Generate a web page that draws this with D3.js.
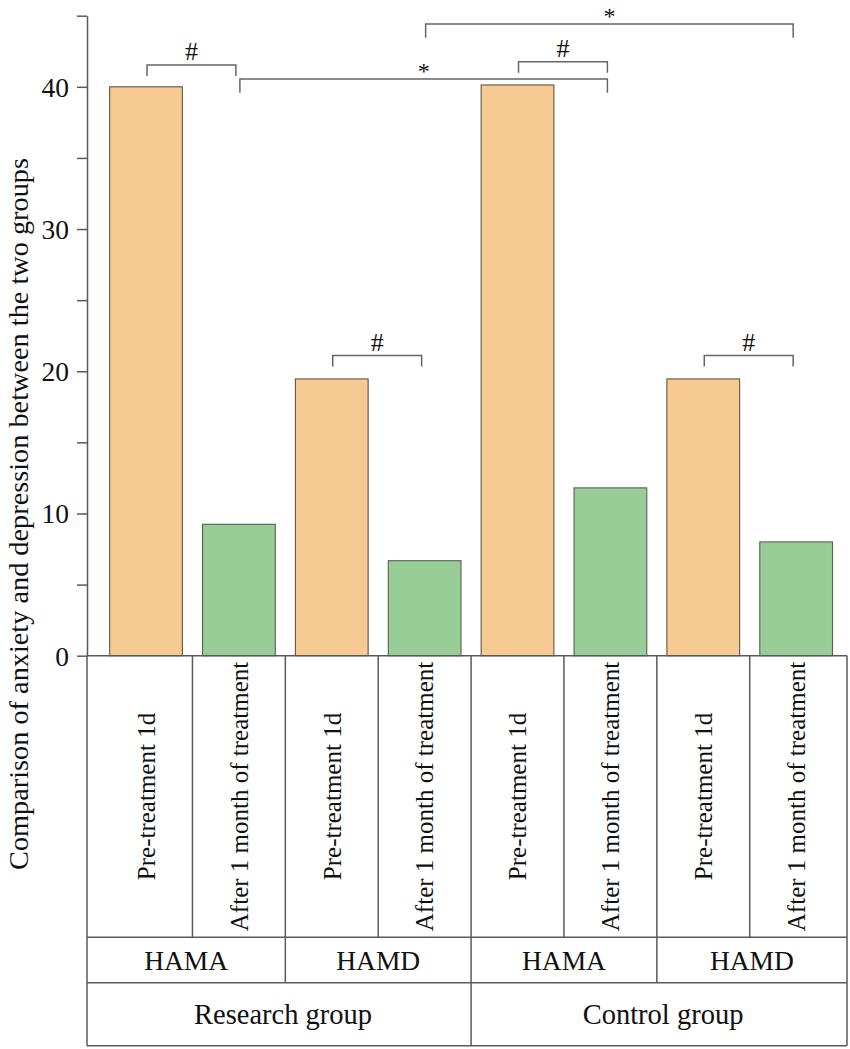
<!DOCTYPE html>
<html>
<head>
<meta charset="utf-8">
<script src="https://cdn.jsdelivr.net/npm/d3@7/dist/d3.min.js"></script>
<style>
  html, body { margin: 0; padding: 0; background: #fff; }
  svg text { font-family: "Liberation Serif", "Times New Roman", Times, serif; fill: #111; }
</style>
</head>
<body>
<svg id="chart" width="850" height="1049"></svg>
<script>
// ---- data ----
const groups = ["Research group", "Control group"];
const scalesNames = ["HAMA", "HAMD"];
const timepoints = ["Pre-treatment 1d", "After 1 month of treatment"];
const values = [40.0, 9.24, 19.46, 6.68, 40.13, 11.8, 19.46, 8.0];
const yTicks = [0, 5, 10, 15, 20, 25, 30, 35, 40, 45];
const yTickLabels = ["0", "", "10", "", "20", "", "30", "", "40", ""];
const yTitle = "Comparison of anxiety and depression between the two groups";
const brackets = [
  { from: 0, to: 1, level: 41.54, label: "#" },
  { from: 2, to: 3, level: 21.1, label: "#" },
  { from: 4, to: 5, level: 41.77, label: "#" },
  { from: 6, to: 7, level: 21.1, label: "#" },
  { from: 1, to: 5, level: 40.55, label: "*" },
  { from: 3, to: 7, level: 44.42, label: "*" }
];

// build rows
const bars = [];
groups.forEach((g, gi) => scalesNames.forEach((s, si) => timepoints.forEach((t, ti) => {
  bars.push({ id: bars.length, group: g, scale: s, time: t, ti: ti, value: values[bars.length] });
})));

const svg = d3.select("#chart");
const left = 87, right = 847, y0 = 655.7, yTop = 15.7;
const rowBottoms = [937.3, 982.7, 1045.7];
const colors = ["#F8CA93", "#98CD97"];
const strokes = ["#5e5444", "#55624f"];
const lineColor = "#5a5a5a";

const x = d3.scaleBand().domain(bars.map(d => d.id)).range([left, right])
  .paddingInner(0.217).paddingOuter(0.2).align(0.61);
const y = d3.scaleLinear().domain([0, 45]).range([y0, yTop]);

// bars
svg.append("g").selectAll("rect").data(bars).join("rect")
  .attr("x", d => x(d.id))
  .attr("y", d => y(d.value))
  .attr("width", x.bandwidth())
  .attr("height", d => y(0) - y(d.value))
  .attr("fill", d => colors[d.ti])
  .attr("stroke", d => strokes[d.ti])
  .attr("stroke-width", 1.1);

// y axis
const yAxis = d3.axisLeft(y).tickValues(yTicks)
  .tickFormat((d, i) => yTickLabels[i]).tickSize(10).tickSizeOuter(0).tickPadding(8);
const ag = svg.append("g").attr("transform", `translate(${left},0)`).call(yAxis);
ag.select(".domain").attr("stroke", lineColor).attr("stroke-width", 1.5);
ag.selectAll(".tick line").attr("stroke", lineColor).attr("stroke-width", 1.5);
ag.selectAll(".tick text").attr("font-size", 27.5).attr("font-family", "Liberation Serif, Times New Roman, serif").attr("fill", "#111").attr("dy", "0.34em");

// y title
svg.append("text")
  .attr("transform", `translate(28,${(158 + 870) / 2}) rotate(-90)`)
  .attr("text-anchor", "middle")
  .attr("font-size", 28.3)
  .text(yTitle);

// table
const step = x.step();
const gap = step - x.bandwidth();
const divider = i => x(bars[i].id) - gap / 2; // line before bar i
const tg = svg.append("g").attr("stroke", lineColor).attr("stroke-width", 1.5).attr("fill", "none");
[y0, ...rowBottoms].forEach(yy => tg.append("line").attr("x1", left).attr("x2", right).attr("y1", yy).attr("y2", yy));
tg.append("line").attr("x1", right).attr("x2", right).attr("y1", y0).attr("y2", rowBottoms[2]);
tg.append("line").attr("x1", left).attr("x2", left).attr("y1", y0).attr("y2", rowBottoms[2]);
bars.forEach((d, i) => {
  if (i === 0) return;
  let yEnd = rowBottoms[0];
  if (i % 2 === 0) yEnd = rowBottoms[1];
  if (i % 4 === 0) yEnd = rowBottoms[2];
  tg.append("line").attr("x1", divider(i)).attr("x2", divider(i)).attr("y1", y0).attr("y2", yEnd);
});

// row1 texts (rotated)
svg.append("g").selectAll("text").data(bars).join("text")
  .attr("transform", d => `translate(${x(d.id) + x.bandwidth() / 2},${(y0 + rowBottoms[0]) / 2}) rotate(-90)`)
  .attr("text-anchor", "middle")
  .attr("dy", "0.35em")
  .attr("font-size", 25)
  .text(d => d.time);

// row2 texts
const cellEdge = i => (i === 0 ? left : (i >= bars.length ? right : divider(i)));
const scaleCells = [];
for (let i = 0; i < bars.length; i += 2) scaleCells.push({ name: bars[i].scale, x0: cellEdge(i), x1: cellEdge(i + 2) });
svg.append("g").selectAll("text").data(scaleCells).join("text")
  .attr("x", d => (d.x0 + d.x1) / 2)
  .attr("y", (rowBottoms[0] + rowBottoms[1]) / 2)
  .attr("dy", "0.35em")
  .attr("text-anchor", "middle")
  .attr("font-size", 27.5)
  .text(d => d.name);

// row3 texts
const groupCells = [];
for (let i = 0; i < bars.length; i += 4) groupCells.push({ name: bars[i].group, x0: cellEdge(i), x1: cellEdge(i + 4) });
svg.append("g").selectAll("text").data(groupCells).join("text")
  .attr("x", d => (d.x0 + d.x1) / 2 + 4)
  .attr("y", (rowBottoms[1] + rowBottoms[2]) / 2)
  .attr("dy", "0.35em")
  .attr("text-anchor", "middle")
  .attr("font-size", 28.5)
  .text(d => d.name);

// significance brackets
const bg = svg.append("g");
brackets.forEach(b => {
  const xa = x(bars[b.from].id) + x.bandwidth() / 2 + 1;
  const xb = x(bars[b.to].id) + x.bandwidth() / 2 - 3;
  const yl = y(b.level);
  const isStar = b.label === "*";
  const leg = isStar ? 13.7 : 11;
  bg.append("path")
    .attr("d", `M${xa},${yl + leg}V${yl}H${xb}V${yl + leg}`)
    .attr("fill", "none").attr("stroke", "#666").attr("stroke-width", 1.5);
  bg.append("text")
    .attr("x", (xa + xb) / 2)
    .attr("y", yl - (isStar ? 0 : 5))
    .attr("text-anchor", "middle")
    .attr("font-size", isStar ? 24 : 26)
    .text(b.label);
});
</script>
</body>
</html>
